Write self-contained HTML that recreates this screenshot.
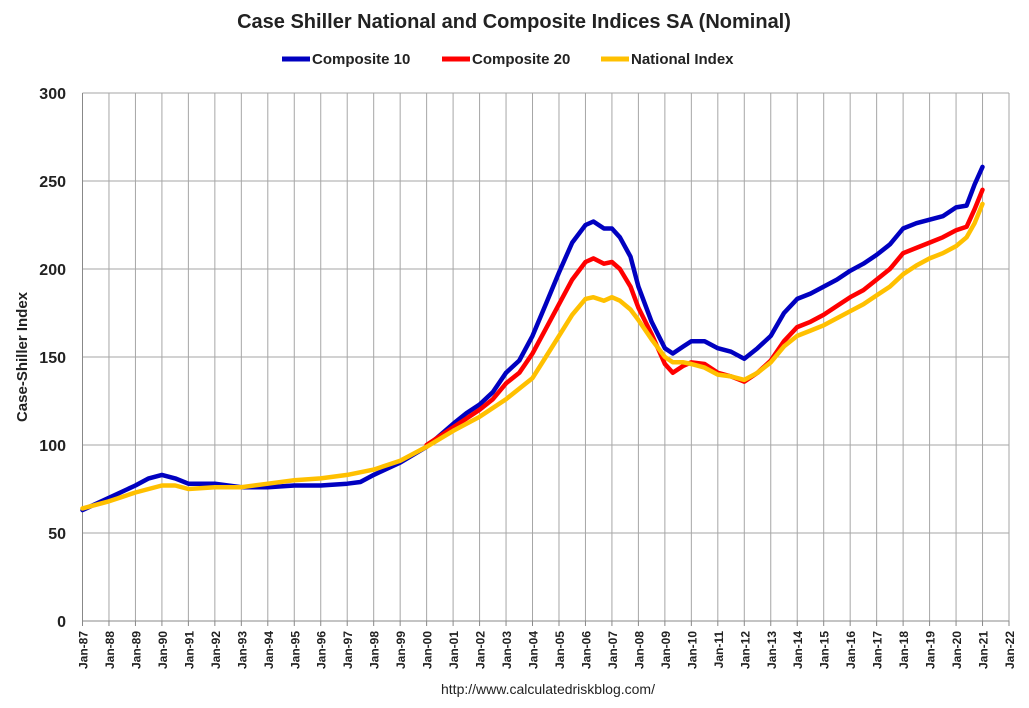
<!DOCTYPE html>
<html><head><meta charset="utf-8"><style>
body{margin:0;background:#fff;font-family:"Liberation Sans",Arial,sans-serif}
svg text{font-family:"Liberation Sans",Arial,sans-serif}
</style></head><body>
<svg id="chart" width="1029" height="703" xmlns="http://www.w3.org/2000/svg">
<text x="514" y="28" text-anchor="middle" font-size="20" font-weight="bold" fill="#222">Case Shiller National and Composite Indices SA (Nominal)</text>
<g font-size="15" font-weight="bold" fill="#222">
<g><line x1="282" y1="59" x2="310" y2="59" stroke="#0000c0" stroke-width="5"/><text x="312" y="64">Composite 10</text></g>
<g><line x1="442" y1="59" x2="470" y2="59" stroke="#ff0000" stroke-width="5"/><text x="472" y="64">Composite 20</text></g>
<g><line x1="601" y1="59" x2="629" y2="59" stroke="#ffc000" stroke-width="5"/><text x="631" y="64">National Index</text></g>
</g>
<text transform="translate(27,357) rotate(-90)" text-anchor="middle" font-size="15" font-weight="bold" fill="#222">Case-Shiller Index</text>
<g id="grid"></g>
<g id="axes"></g>
<g id="series"></g>
<text x="548" y="694" text-anchor="middle" font-size="14" fill="#222">http://www.calculatedriskblog.com/</text>
</svg>
<script>
const yTicks=[0,50,100,150,200,250,300];
const xYears=[];for(let y=1987;y<=2022;y++)xYears.push(y);
const c10T=[1987,1988,1989,1989.5,1990,1990.5,1991,1991.5,1992,1993,1994,1995,1996,1997,1997.5,1998,1999,2000,2001,2001.5,2002,2002.5,2003,2003.5,2004,2004.5,2005,2005.5,2006,2006.3,2006.7,2007,2007.3,2007.7,2008,2008.5,2009,2009.3,2009.7,2010,2010.5,2011,2011.5,2012,2012.5,2013,2013.5,2014,2014.5,2015,2015.5,2016,2016.5,2017,2017.5,2018,2018.5,2019,2019.5,2020,2020.4,2020.7,2021];
const c10V=[63,70,77,81,83,81,78,78,78,76,76,77,77,78,79,83,90,99,112,118,123,130,141,148,162,180,198,215,225,227,223,223,218,207,190,170,155,152,156,159,159,155,153,149,155,162,175,183,186,190,194,199,203,208,214,223,226,228,230,235,236,248,258];
const c20T=[2000,2001,2001.5,2002,2002.5,2003,2003.5,2004,2004.5,2005,2005.5,2006,2006.3,2006.7,2007,2007.3,2007.7,2008,2008.5,2009,2009.3,2009.7,2010,2010.5,2011,2011.5,2012,2012.5,2013,2013.5,2014,2014.5,2015,2015.5,2016,2016.5,2017,2017.5,2018,2018.5,2019,2019.5,2020,2020.4,2020.7,2021];
const c20V=[100,110,115,120,126,135,141,152,166,180,194,204,206,203,204,200,190,178,163,146,141,145,147,146,141,139,136,141,148,159,167,170,174,179,184,188,194,200,209,212,215,218,222,224,234,245];
const natT=[1987,1988,1989,1990,1990.5,1991,1992,1993,1994,1995,1996,1997,1998,1999,2000,2001,2002,2003,2004,2004.5,2005,2005.5,2006,2006.3,2006.7,2007,2007.3,2007.7,2008,2008.5,2009,2009.3,2009.7,2010,2010.5,2011,2011.5,2012,2012.5,2013,2013.5,2014,2014.5,2015,2015.5,2016,2016.5,2017,2017.5,2018,2018.5,2019,2019.5,2020,2020.4,2020.7,2021];
const natV=[64,68,73,77,77,75,76,76,78,80,81,83,86,91,99,108,116,126,138,150,162,174,183,184,182,184,182,177,171,160,150,147,147,146,144,140,139,137,141,147,156,162,165,168,172,176,180,185,190,197,202,206,209,213,218,226,237];
const X0=82.5,X1=1009,Y0=621,Y1=93;
const xs=t=>X0+(t-1987)/35*(X1-X0);
const ys=v=>Y0-v/300*(Y0-Y1);
const NS="http://www.w3.org/2000/svg";
function mk(tag,attrs,parent){const e=document.createElementNS(NS,tag);for(const k in attrs)e.setAttribute(k,attrs[k]);parent.appendChild(e);return e;}
const grid=document.getElementById('grid'),axes=document.getElementById('axes'),series=document.getElementById('series');
yTicks.forEach(v=>{
 if(v>0){const l=mk('line',{x1:X0,x2:X1,y1:ys(v),y2:ys(v),stroke:'#a6a6a6','stroke-width':1},grid);
 
 }
 const t=mk('text',{x:66,y:ys(v)+6,'text-anchor':'end','font-size':16,'font-weight':'bold',fill:'#222'},axes);
 t.textContent=v;
 
 
});
xYears.forEach(y=>{
 const x=xs(y);
 if(y>1987){const l=mk('line',{x1:x,x2:x,y1:Y1,y2:Y0,stroke:'#a6a6a6','stroke-width':1},grid);
 
 }
 mk('line',{x1:x,x2:x,y1:Y0,y2:Y0+5,stroke:'#888'},axes);
 const t=mk('text',{transform:`translate(${x+5},${Y0+10}) rotate(-90)`,'text-anchor':'end','font-size':12,'font-weight':'bold',fill:'#222'},axes);
 t.textContent='Jan-'+String(y%100).padStart(2,'0');
 
 
});
const ax=mk('line',{x1:X0,x2:X1,y1:Y0,y2:Y0,stroke:'#888'},axes);


const ay=mk('line',{x1:X0,x2:X0,y1:Y1,y2:Y0,stroke:'#888'},axes);


function line(T,V,color,name){
 const d=T.map((t,i)=>(i?'L':'M')+xs(t).toFixed(1)+','+ys(V[i]).toFixed(1)).join('');
 const p=mk('path',{d:d,fill:'none',stroke:color,'stroke-width':4.5,'stroke-linejoin':'round','stroke-linecap':'round'},series);
 
 
}
line(c10T,c10V,'#0000c0','composite-10-line');
line(c20T,c20V,'#ff0000','composite-20-line');
line(natT,natV,'#ffc000','national-index-line');
</script>
</body></html>
